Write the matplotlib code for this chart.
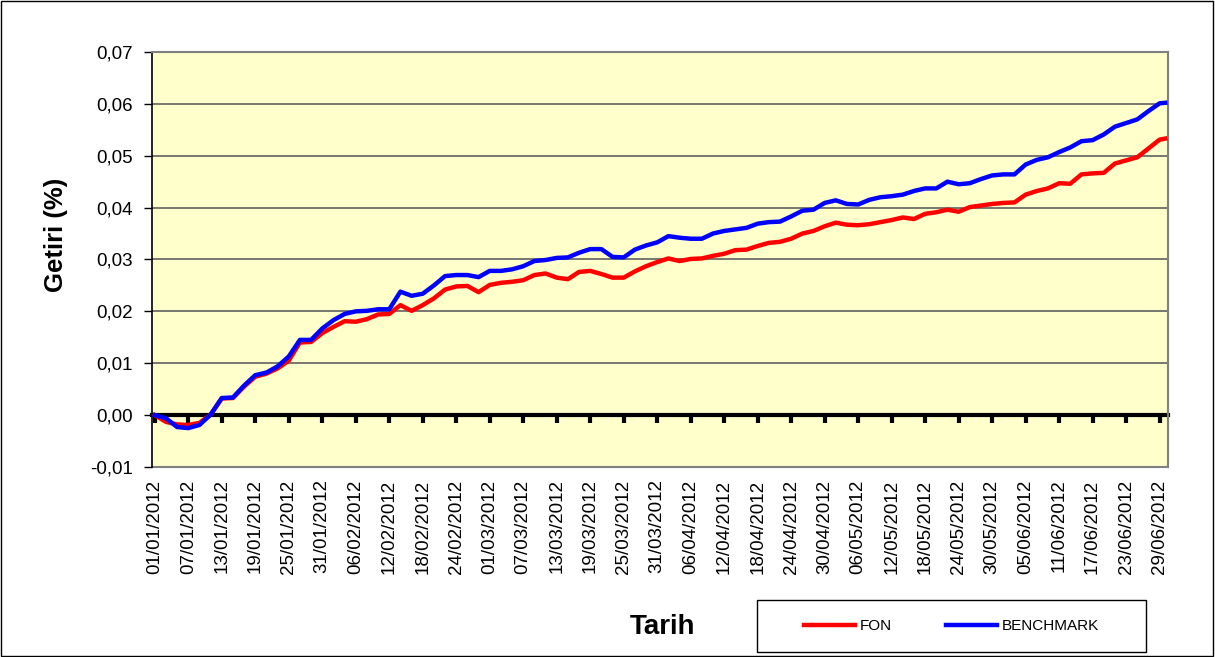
import datetime as dt
import matplotlib
matplotlib.use('Agg')
import matplotlib.pyplot as plt
from matplotlib.patches import Rectangle

plt.rcParams['font.family'] = ['Liberation Sans', 'DejaVu Sans']

# gün (01/01/2012'den itibaren) ve getiri değerleri
gunler = list(range(0, 181, 2)) + [181]

fon = [0.0, -0.0013, -0.0018, -0.0019, -0.0015, 0.0001, 0.0032, 0.0033, 0.0055, 0.0074,
       0.0080, 0.0090, 0.0105, 0.0140, 0.0141, 0.0158, 0.0170, 0.0181, 0.0180, 0.0185,
       0.0194, 0.0195, 0.0212, 0.0201, 0.0212, 0.0225, 0.0242, 0.0248, 0.0249, 0.0237,
       0.0251, 0.0255, 0.0257, 0.0260, 0.0270, 0.0273, 0.0265, 0.0262, 0.0276, 0.0278,
       0.0272, 0.0265, 0.0265, 0.0277, 0.0287, 0.0295, 0.0302, 0.0297, 0.0301, 0.0302,
       0.0307, 0.0311, 0.0318, 0.0319, 0.0326, 0.0332, 0.0334, 0.0340, 0.0350, 0.0355,
       0.0364, 0.0371, 0.0367, 0.0366, 0.0368, 0.0372, 0.0376, 0.0381, 0.0378, 0.0388,
       0.0391, 0.0396, 0.0392, 0.0401, 0.0404, 0.0407, 0.0409, 0.0410, 0.0425, 0.0432,
       0.0437, 0.0447, 0.0446, 0.0464, 0.0466, 0.0467, 0.0485, 0.0491, 0.0497, 0.0514,
       0.0531, 0.0533]

benchmark = [0.0, -0.0006, -0.0023, -0.0025, -0.0019, 0.0001, 0.0033, 0.0034, 0.0057, 0.0077,
             0.0082, 0.0094, 0.0113, 0.0145, 0.0145, 0.0167, 0.0183, 0.0195, 0.0200, 0.0201,
             0.0204, 0.0204, 0.0238, 0.0230, 0.0234, 0.0250, 0.0268, 0.0270, 0.0270, 0.0266,
             0.0278, 0.0278, 0.0281, 0.0287, 0.0297, 0.0299, 0.0303, 0.0304, 0.0313, 0.0320,
             0.0320, 0.0305, 0.0304, 0.0319, 0.0327, 0.0333, 0.0345, 0.0342, 0.0340, 0.0340,
             0.0350, 0.0355, 0.0358, 0.0361, 0.0369, 0.0372, 0.0373, 0.0383, 0.0394, 0.0396,
             0.0409, 0.0414, 0.0407, 0.0406, 0.0415, 0.0420, 0.0422, 0.0425, 0.0432, 0.0437,
             0.0437, 0.0450, 0.0445, 0.0447, 0.0455, 0.0462, 0.0464, 0.0464, 0.0483, 0.0492,
             0.0497, 0.0507, 0.0516, 0.0528, 0.0530, 0.0541, 0.0556, 0.0563, 0.0570, 0.0586,
             0.0601, 0.0602]

baslangic = dt.date(2012, 1, 1)
etiket_gunleri = list(range(0, 181, 6))
etiketler = [(baslangic + dt.timedelta(days=g)).strftime('%d/%m/%Y') for g in etiket_gunleri]
y_ticks = [-0.01, 0.0, 0.01, 0.02, 0.03, 0.04, 0.05, 0.06, 0.07]

fig = plt.figure(figsize=(12.15, 6.57), dpi=100)
ax = fig.add_axes([0.1251, 0.2892, 0.8362, 0.6317])
ax.set_facecolor('#FFFFCC')

ax.plot(gunler, fon, color='#FF0000', lw=3.2, label='FON', zorder=3)
ax.plot(gunler, benchmark, color='#0000FF', lw=3.2, label='BENCHMARK', zorder=4)

ax.set_xlim(-0.5, 181.5)
ax.set_ylim(-0.01, 0.07)
ax.set_yticks(y_ticks)
ax.set_yticklabels([f'{v:.2f}'.replace('.', ',') for v in y_ticks], fontsize=13.5)
for v in y_ticks[2:]:
    ax.axhline(v, color='#606060', lw=1.2, zorder=1)

# sıfır çizgisi üzerinde eksen ve kısa işaretler
ax.spines['bottom'].set_position(('data', 0))
ax.spines['bottom'].set_linewidth(3)
ax.spines['bottom'].set_zorder(2)
ax.set_xticks(etiket_gunleri)
ax.tick_params(axis='x', length=5.5, width=3, direction='out', labelbottom=False)
ax.tick_params(axis='y', length=6, width=1, direction='out', pad=8)
ax.spines['left'].set_linewidth(1.2)
for s in ['top', 'right']:
    ax.spines[s].set_color('#808080')
    ax.spines[s].set_linewidth(1.5)

# tarih etiketleri altta
sec = ax.secondary_xaxis(0.0)
sec.set_xticks(etiket_gunleri)
sec.set_xticklabels(etiketler, rotation=90, fontsize=13.5)
sec.tick_params(length=0, pad=9)
sec.spines['bottom'].set_color('#808080')
sec.spines['bottom'].set_linewidth(1.5)

fig.text(55.5 / 1215, 1 - 235 / 657, 'Getiri (%)', rotation=90, fontsize=18.5,
         fontweight='bold', ha='center', va='center')
fig.text(662.5 / 1215, 1 - 627 / 657, 'Tarih', fontsize=20, fontweight='bold',
         ha='center', va='center')

# lejant kutusu
fig.patches.append(Rectangle((757 / 1215, 1 - 652 / 657), 389 / 1215, 52 / 657,
                             transform=fig.transFigure, fill=False, edgecolor='black', lw=1))
fig.legend(loc='center', bbox_to_anchor=(0.7831, 0.0472), ncol=2, frameon=False,
           fontsize=11, handlelength=3.3, handletextpad=0.3, columnspacing=3.6)

# dış çerçeve
fig.patches.append(Rectangle((0.001, 0.002), 0.997, 0.996, transform=fig.transFigure,
                             fill=False, edgecolor='black', lw=1))

fig.savefig('out.png', dpi=100)
